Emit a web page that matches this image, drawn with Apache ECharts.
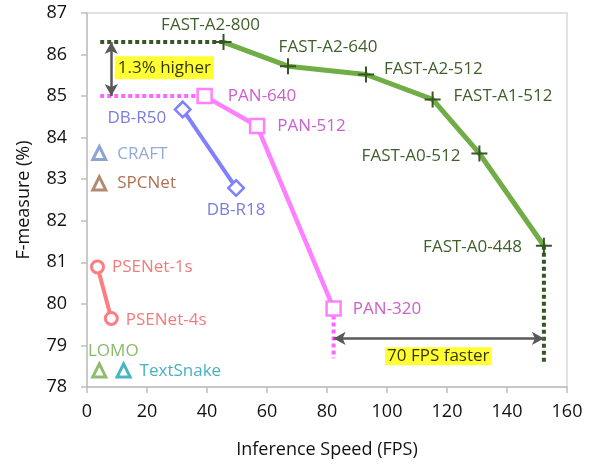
<!DOCTYPE html>
<html><head><meta charset="utf-8">
<script src="https://cdn.jsdelivr.net/npm/echarts@6/dist/echarts.min.js"></script>
<style>html,body{margin:0;padding:0;background:#fff}#c{width:595px;height:465px}</style>
</head><body><div id="c"></div>
<script>
// ---- data ----
const fastNames = ['FAST-A2-800','FAST-A2-640','FAST-A2-512','FAST-A1-512','FAST-A0-512','FAST-A0-448'];
const fastFps   = [45.5, 67.0, 93.0, 115.2, 130.8, 152.3];
const fastF     = [86.3, 85.72, 85.52, 84.92, 83.62, 81.4];
const panNames  = ['PAN-640','PAN-512','PAN-320'];
const panFps    = [39.2, 56.7, 82.2];
const panF      = [85.0, 84.28, 79.89];
const dbNames   = ['DB-R50','DB-R18'];
const dbFps     = [31.9, 49.7];
const dbF       = [84.68, 82.79];
const pseNames  = ['PSENet-1s','PSENet-4s'];
const pseFps    = [3.5, 8.1];
const pseF      = [80.89, 79.65];
const otherNames = ['CRAFT','SPCNet','LOMO','TextSnake'];
const otherFps   = [4.1, 4.1, 4.1, 12.2];
const otherF     = [83.63, 82.9, 78.4, 78.4];
const xTicks = [0,20,40,60,80,100,120,140,160];
const yTicks = [78,79,80,81,82,83,84,85,86,87];
const gainText  = '1.3% higher';
const speedText = '70 FPS faster';
const gapLeftFps = 4.4;    // start of horizontal dotted guides
const gainArrowFps = 8.1;  // x of vertical arrow
const speedArrowF = 79.17; // y of horizontal arrow
const guideBottom = [78.69, 78.6]; // bottom of PAN / FAST vertical guides
const gainLabelPos = [25.8, 85.68];
const speedLabelPos = [117.1, 78.74];

// ---- styles ----
const FONT = '"Open Sans", "Noto Sans", sans-serif';
const plusPath = 'path://M7,0h2v7h7v2h-7v7h-2v-7h-7v-2h7z';
const fastLbl = [
  {position:'top', distance:0, offset:[-13,0]},
  {position:'top', distance:0, offset:[40,-3]},
  {position:'right', distance:10, offset:[0,-5]},
  {position:'right', distance:13, offset:[0,-3]},
  {position:'left', distance:11, offset:[0,3]},
  {position:'left', distance:14, offset:[0,1]}
];
const panLbl = [
  {position:'right', distance:15, offset:[0,0]},
  {position:'right', distance:12, offset:[0,0]},
  {position:'right', distance:11, offset:[0,1]}
];
const dbLbl = [
  {position:'left', distance:7, offset:[0,9]},
  {position:'bottom', distance:4, offset:[0,0]}
];
const pseLbl = [
  {position:'right', distance:7, offset:[0,0]},
  {position:'right', distance:7, offset:[0,2]}
];
const otherLbl = [
  {position:'right', distance:10, offset:[0,1]},
  {position:'right', distance:10, offset:[0,0]},
  {position:'top', distance:3, offset:[14,0]},
  {position:'right', distance:8, offset:[0,1]}
];
const otherColor = ['#6F8DC6','#9E6E4C','#70AD47','#17A2B4'];
const otherText  = ['#7894CE','#9C4F27','#6AA843','#1A9DAE'];

function pts(xs, ys, names, lbls, extra) {
  return xs.map((x,i)=>Object.assign({value:[x, ys[i]], name:names[i], label:lbls[i]}, extra ? extra(i) : {}));
}
const LBL = 17;
const lblBase = (color)=>({show:true, formatter:'{b}', color:color, fontSize:LBL, fontFamily:FONT});

const chart = echarts.init(document.getElementById('c'), null, {renderer:'canvas'});
chart.setOption({
  animation:false,
  grid:{left:87, right:28, top:13, bottom:78, show:true, borderColor:'#D9D9D9', borderWidth:1.5, backgroundColor:'transparent'},
  xAxis:{type:'value', min:xTicks[0], max:xTicks[xTicks.length-1], interval:20,
    name:'Inference Speed (FPS)', nameLocation:'middle', nameGap:54,
    nameTextStyle:{fontSize:18, fontFamily:FONT, color:'#111'},
    axisLine:{show:true, lineStyle:{color:'#BFBFBF', width:1.5}},
    axisTick:{show:true, length:6, lineStyle:{color:'#BFBFBF', width:1.5}},
    axisLabel:{fontSize:18, fontFamily:FONT, color:'#111', margin:16},
    splitLine:{show:false}},
  yAxis:{type:'value', min:yTicks[0], max:yTicks[yTicks.length-1], interval:1,
    name:'F-measure (%)', nameLocation:'middle', nameGap:54, nameRotate:90,
    nameTextStyle:{fontSize:18, fontFamily:FONT, color:'#111'},
    axisLine:{show:true, lineStyle:{color:'#BFBFBF', width:1.5}},
    axisTick:{show:true, length:6, lineStyle:{color:'#BFBFBF', width:1.5}},
    axisLabel:{fontSize:18, fontFamily:FONT, color:'#111', margin:20},
    splitLine:{show:false}},
  series:[
    // guides
    {type:'line', symbol:'none', silent:true, z:1,
      data:[[gapLeftFps, fastF[0]],[fastFps[0], fastF[0]]],
      lineStyle:{color:'#375623', width:4, type:[4,3]}},
    {type:'line', symbol:'none', silent:true, z:1,
      data:[[gapLeftFps, panF[0]],[panFps[0], panF[0]]],
      lineStyle:{color:'#FF66FF', width:4, type:[4,3]}},
    {type:'line', symbol:'none', silent:true, z:1,
      data:[[panFps[2], panF[2]],[panFps[2], guideBottom[0]]],
      lineStyle:{color:'#FF66FF', width:4, type:[4,3]}},
    {type:'line', symbol:'none', silent:true, z:1,
      data:[[fastFps[5], fastF[5]],[fastFps[5], guideBottom[1]]],
      lineStyle:{color:'#375623', width:4, type:[4,3]}},
    // arrows
    {type:'line', symbol:'none', silent:true, data:[], z:3,
      markLine:{silent:true, symbol:['arrow','arrow'], symbolSize:[10,12], label:{show:false},
        lineStyle:{color:'#595959', width:2.5, type:'solid'},
        data:[
          [{coord:[gainArrowFps, fastF[0]]},{coord:[gainArrowFps, panF[0]]}],
          [{coord:[panFps[2], speedArrowF]},{coord:[fastFps[5], speedArrowF]}]
        ]}},
    // FAST
    {type:'line', name:'FAST', z:5,
      data:pts(fastFps, fastF, fastNames, fastLbl),
      symbol:plusPath, symbolSize:16,
      lineStyle:{color:'#70AD47', width:5},
      itemStyle:{color:'#375623'},
      label:lblBase('#3F5F2B')},
    // PAN
    {type:'line', name:'PAN', z:4,
      data:pts(panFps, panF, panNames, panLbl),
      symbol:'rect', symbolSize:14, showAllSymbol:true,
      lineStyle:{color:'#FF80FF', width:4.5},
      itemStyle:{color:'#FFFFFF', borderColor:'#FF80FF', borderWidth:2.5},
      label:lblBase('#CC5FCC')},
    // DB
    {type:'line', name:'DB', z:4,
      data:pts(dbFps, dbF, dbNames, dbLbl),
      symbol:'rect', symbolSize:11, symbolRotate:45,
      lineStyle:{color:'#8080FF', width:4},
      itemStyle:{color:'#FFFFFF', borderColor:'#8080FF', borderWidth:2.5},
      label:lblBase('#7B7BE0')},
    // PSENet
    {type:'line', name:'PSENet', z:4,
      data:pts(pseFps, pseF, pseNames, pseLbl),
      symbol:'circle', symbolSize:12,
      lineStyle:{color:'#FF7C80', width:4},
      itemStyle:{color:'#FFFFFF', borderColor:'#FF7C80', borderWidth:3},
      label:lblBase('#F27C7C')},
    // others
    {type:'scatter', name:'others', z:4,
      data:pts(otherFps, otherF, otherNames, otherLbl, i=>({
        itemStyle:{color:'#FFFFFF', borderColor:otherColor[i], borderWidth:3},
        label:Object.assign({}, otherLbl[i], {color:otherText[i]})
      })),
      symbol:'triangle', symbolSize:[13,13],
      label:{show:true, formatter:'{b}', fontSize:LBL, fontFamily:FONT}},
    // text boxes
    {type:'scatter', z:6, symbolSize:0, silent:true,
      data:[
        {value:gainLabelPos, name:gainText, label:{padding:[4,3,2,3]}},
        {value:speedLabelPos, name:speedText, label:{padding:[1,2,0,2]}}
      ],
      label:{show:true, position:'inside', formatter:'{b}', fontSize:17, fontFamily:FONT, color:'#000',
        backgroundColor:'#FFFF00'}}
  ]
});
</script></body></html>
